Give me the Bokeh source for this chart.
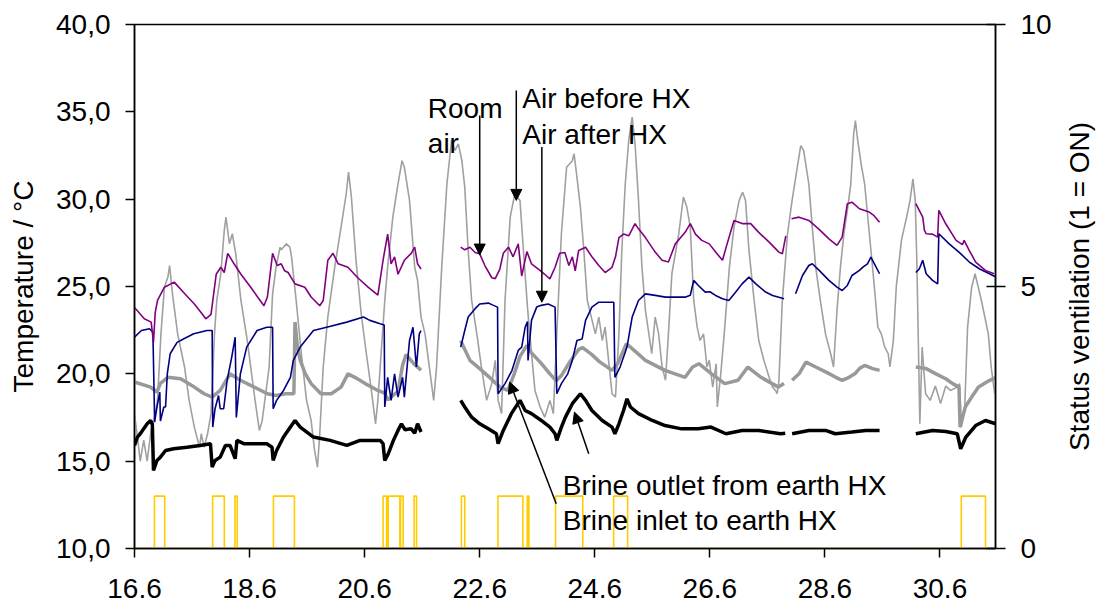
import math
from bokeh.plotting import figure
from bokeh.layouts import row
from bokeh.models import Range1d, LinearAxis, FixedTicker, Label, Arrow, NormalHead
from bokeh.embed import file_html
from bokeh.resources import INLINE

# ---------------- data ----------------
date_ticks = [16, 18, 20, 22, 24, 26, 28, 30]
date_labels = ["16.6", "18.6", "20.6", "22.6", "24.6", "26.6", "28.6", "30.6"]
temp_ticks = [10, 15, 20, 25, 30, 35, 40]
temp_labels = ["10,0", "15,0", "20,0", "25,0", "30,0", "35,0", "40,0"]
vent_ticks = [0, 5, 10]

# (day of June, value); None = missing data
room_air = [
    (16.00, 23.8), (16.17, 23.15), (16.29, 22.96), (16.33, 21.8), (16.36, 23.5), (16.40, 24.2),
    (16.52, 24.96), (16.69, 25.25), (16.87, 24.6), (17.04, 24.0), (17.16, 23.5), (17.24, 23.15),
    (17.33, 23.4), (17.42, 25.7), (17.50, 26.1), (17.56, 25.8), (17.62, 26.9), (17.73, 26.3),
    (17.85, 25.7), (18.02, 24.96), (18.14, 24.4), (18.25, 23.9), (18.31, 24.4), (18.40, 26.9),
    (18.48, 26.2), (18.55, 26.3), (18.61, 25.9), (18.67, 25.8), (18.79, 25.15), (18.96, 24.96),
    (19.07, 24.4), (19.22, 23.9), (19.28, 24.2), (19.36, 26.5), (19.45, 26.9), (19.54, 26.3),
    (19.71, 26.1), (19.88, 25.5), (20.06, 24.96), (20.23, 24.5), (20.32, 26.5), (20.40, 28.0),
    (20.46, 26.3), (20.52, 26.7), (20.58, 25.7), (20.69, 26.5), (20.81, 26.9), (20.87, 27.25),
    (20.92, 26.3), (20.98, 26.0), None,
    (21.67, 27.25), (21.74, 27.1), (21.83, 27.25), (21.92, 26.95), (22.00, 26.87), (22.09, 26.2),
    (22.21, 25.5), (22.27, 25.45), (22.35, 26.0), (22.41, 26.9), (22.50, 27.25), (22.58, 26.7),
    (22.67, 27.44), (22.73, 25.6), (22.82, 27.0), (22.90, 26.3), (23.02, 26.0), (23.13, 25.7),
    (23.22, 25.44), (23.31, 26.1), (23.39, 26.9), (23.48, 26.95), (23.55, 26.2), (23.61, 26.7),
    (23.66, 25.9), (23.72, 27.06), (23.84, 27.25), (23.95, 26.7), (24.07, 26.2), (24.18, 25.8),
    (24.30, 26.1), (24.36, 26.7), (24.42, 27.8), (24.50, 28.0), (24.59, 27.9), (24.70, 28.6),
    (24.76, 28.3), (24.88, 27.8), (25.05, 26.97), (25.17, 26.5), (25.28, 26.4), (25.40, 27.44),
    (25.57, 28.1), (25.66, 28.6), (25.75, 28.0), (25.86, 27.64), (25.99, 27.44), (26.10, 26.97),
    (26.22, 26.5), (26.30, 27.44), (26.42, 28.78), (26.56, 28.6), (26.71, 28.6), (26.85, 28.1),
    (27.03, 27.54), (27.20, 26.97), (27.26, 26.87), (27.32, 27.9), None,
    (27.42, 28.88), (27.55, 28.97), (27.72, 28.78), (27.89, 28.3), (28.07, 27.73), (28.21, 27.35),
    (28.30, 27.83), (28.39, 29.74), (28.47, 29.83), (28.60, 29.45), (28.77, 29.26), (28.85, 29.07),
    (28.95, 28.68), None,
    (29.58, 29.74), (29.64, 29.36), (29.70, 28.97), (29.73, 28.21), (29.76, 28.02), (29.87, 28.0),
    (29.96, 27.83), (29.98, 29.36), (30.10, 28.59), (30.28, 27.64), (30.39, 27.4), (30.42, 27.64),
    (30.51, 27.06), (30.62, 26.4), (30.79, 25.92), (30.94, 25.73),
]

air_after_hx = [
    (16.00, 22.1), (16.12, 22.48), (16.26, 22.58), (16.32, 22.39), (16.35, 17.24), (16.39, 18.1),
    (16.44, 18.95), (16.45, 17.3), (16.51, 18.1), (16.54, 18.1), (16.57, 20.0), (16.62, 21.15),
    (16.74, 21.8), (16.85, 21.99), (17.03, 22.29), (17.26, 22.48), (17.35, 22.48), (17.36, 16.95),
    (17.40, 18.0), (17.46, 18.76), (17.49, 18.0), (17.55, 18.0), (17.61, 19.63), (17.69, 20.96),
    (17.75, 22.1), (17.77, 17.5), (17.84, 20.0), (17.95, 21.53), (18.13, 22.48), (18.30, 22.67),
    (18.40, 22.67), (18.41, 18.0), (18.47, 18.48), (18.59, 19.05), (18.71, 19.8), (18.76, 20.77),
    (18.88, 21.53), (19.11, 22.48), (19.34, 22.67), (19.69, 22.96), (19.98, 23.25), (20.09, 23.06),
    (20.27, 22.87), (20.34, 22.8), (20.35, 18.1), (20.40, 19.8), (20.46, 18.48), (20.52, 20.0),
    (20.58, 18.67), (20.66, 19.8), (20.69, 18.67), (20.78, 21.91), (20.84, 22.67), (20.90, 20.39),
    (20.95, 22.29), (20.98, 22.48), None,
    (21.67, 21.53), (21.74, 22.48), (21.80, 23.25), (21.92, 23.73), (22.00, 24.0), (22.15, 24.05),
    (22.24, 23.92), (22.31, 23.82), (22.32, 18.86), (22.44, 19.44), (22.56, 20.19), (22.67, 21.34),
    (22.73, 21.53), (22.79, 22.67), (22.83, 23.0), (22.84, 20.77), (22.90, 23.06), (22.99, 23.82),
    (23.07, 23.92), (23.19, 24.0), (23.31, 23.82), (23.34, 18.86), (23.42, 19.44), (23.53, 20.0),
    (23.61, 20.77), (23.69, 21.91), (23.78, 22.0), (23.84, 23.06), (23.95, 23.82), (24.07, 24.1),
    (24.33, 24.1), (24.35, 19.8), (24.44, 20.39), (24.56, 21.53), (24.65, 23.25), (24.76, 24.2),
    (24.88, 24.58), (25.05, 24.49), (25.23, 24.39), (25.57, 24.39), (25.66, 24.5), (25.72, 25.35),
    (25.80, 25.06), (25.92, 24.68), (26.00, 24.7), (26.10, 24.49), (26.22, 24.3), (26.33, 24.2),
    (26.45, 24.68), (26.56, 25.15), (26.68, 25.54), (26.80, 25.15), (26.97, 24.68), (27.09, 24.49),
    (27.29, 24.3), None,
    (27.49, 24.58), (27.61, 25.63), (27.72, 26.2), (27.78, 26.3), (27.90, 25.92), (28.07, 25.35),
    (28.21, 24.96), (28.30, 24.77), (28.39, 25.06), (28.47, 25.63), (28.60, 25.92), (28.66, 26.11),
    (28.74, 26.3), (28.80, 26.68), (28.86, 26.3), (28.95, 25.73), None,
    (29.58, 25.8), (29.64, 26.0), (29.70, 26.5), (29.76, 25.73), (29.87, 25.35), (29.96, 25.15),
    (29.98, 28.02), (30.16, 27.44), (30.33, 26.97), (30.51, 26.4), (30.69, 26.0), (30.86, 25.73),
    (30.97, 25.54),
]

air_before_hx = [
    (16.00, 17.7), (16.05, 16.4), (16.10, 15.0), (16.16, 16.2), (16.22, 15.0), (16.29, 16.8),
    (16.33, 17.2), (16.40, 18.5), (16.46, 22.3), (16.52, 24.96), (16.58, 25.54), (16.61, 26.2),
    (16.66, 24.58), (16.75, 22.29), (16.87, 20.39), (16.95, 18.48), (17.04, 16.95), (17.13, 15.8),
    (17.16, 16.57), (17.21, 15.8), (17.27, 16.57), (17.33, 17.72), (17.39, 22.29), (17.43, 24.2),
    (17.50, 25.73), (17.56, 28.2), (17.59, 28.97), (17.65, 27.44), (17.70, 28.02), (17.76, 26.87),
    (17.85, 24.2), (17.96, 21.91), (18.08, 18.86), (18.17, 16.76), (18.22, 17.33), (18.34, 20.39),
    (18.40, 24.58), (18.46, 26.11), (18.53, 27.25), (18.55, 27.1), (18.64, 27.44), (18.70, 27.25),
    (18.73, 26.68), (18.81, 24.2), (18.90, 21.15), (18.99, 18.48), (19.07, 17.33), (19.13, 15.61),
    (19.18, 14.66), (19.22, 16.57), (19.28, 20.39), (19.36, 23.25), (19.48, 26.11), (19.59, 28.4),
    (19.68, 30.31), (19.72, 31.55), (19.77, 30.12), (19.85, 26.5), (19.94, 23.44), (20.03, 21.15),
    (20.11, 19.24), (20.19, 17.14), (20.23, 18.48), (20.29, 21.34), (20.35, 24.2), (20.40, 26.11),
    (20.49, 28.97), (20.58, 30.88), (20.65, 32.2), (20.69, 31.83), (20.78, 29.93), (20.87, 26.11),
    (20.92, 25.35), (20.98, 23.25), (21.05, 22.29), (21.14, 20.0), (21.20, 18.48), (21.25, 20.39),
    (21.34, 26.11), (21.43, 30.88), (21.51, 33.36), (21.57, 32.79), (21.63, 33.17), (21.69, 32.2),
    (21.74, 30.69), (21.80, 27.06), (21.86, 24.2), (21.95, 22.29), (22.03, 20.39), (22.12, 18.48),
    (22.21, 19.44), (22.27, 20.77), (22.32, 18.48), (22.38, 17.72), (22.44, 24.2), (22.53, 28.97),
    (22.61, 30.31), (22.70, 29.93), (22.76, 27.06), (22.83, 23.82), (22.87, 22.29), (22.96, 19.05),
    (23.05, 18.1), (23.13, 17.52), (23.22, 18.48), (23.28, 17.72), (23.34, 22.29), (23.42, 28.02),
    (23.51, 31.83), (23.61, 32.2), (23.64, 32.6), (23.69, 31.26), (23.75, 29.55), (23.81, 27.06),
    (23.87, 24.2), (24.01, 22.29), (24.07, 23.25), (24.13, 21.91), (24.18, 22.67), (24.24, 20.77),
    (24.30, 18.86), (24.36, 18.67), (24.42, 22.29), (24.47, 27.06), (24.53, 30.88), (24.59, 33.36),
    (24.65, 34.7), (24.70, 33.17), (24.76, 29.93), (24.82, 26.11), (24.88, 23.63), (24.94, 22.29),
    (24.99, 21.15), (25.05, 23.25), (25.11, 22.29), (25.17, 20.39), (25.23, 19.63), (25.28, 22.29),
    (25.34, 25.73), (25.46, 28.02), (25.54, 30.12), (25.60, 29.55), (25.66, 28.4), (25.72, 24.2),
    (25.78, 22.67), (25.83, 21.91), (25.89, 22.29), (25.95, 20.39), (25.99, 20.77), (26.05, 19.24),
    (26.11, 20.58), (26.13, 18.1), (26.19, 20.0), (26.25, 22.29), (26.34, 26.11), (26.42, 28.4),
    (26.51, 29.93), (26.57, 30.4), (26.62, 29.93), (26.68, 27.06), (26.77, 24.2), (26.85, 21.91),
    (26.94, 20.77), (27.03, 19.8), (27.09, 19.24), (27.14, 19.05), (27.17, 18.86), (27.20, 19.6),
    (27.26, 24.2), (27.35, 28.02), (27.43, 29.93), (27.52, 31.83), (27.58, 33.07), (27.63, 32.79),
    (27.72, 30.88), (27.78, 28.4), (27.84, 26.11), (27.92, 24.2), (28.01, 22.29), (28.10, 21.15),
    (28.15, 20.39), (28.21, 23.63), (28.27, 26.11), (28.33, 28.02), (28.39, 29.36), (28.45, 30.88),
    (28.50, 33.74), (28.53, 34.5), (28.57, 33.36), (28.63, 32.0), (28.69, 30.88), (28.80, 27.06),
    (28.86, 24.96), (28.92, 22.67), (28.98, 22.29), (29.04, 21.53), (29.10, 21.15), (29.13, 20.39),
    (29.19, 21.91), (29.24, 24.96), (29.33, 27.64), (29.42, 28.97), (29.48, 29.93), (29.53, 31.17),
    (29.57, 29.93), (29.60, 26.11), (29.65, 17.14), (29.69, 21.53), (29.75, 18.86), (29.83, 18.48),
    (29.92, 19.3), (30.01, 18.3), (30.10, 19.3), (30.18, 19.05), (30.30, 19.24), (30.34, 19.44),
    (30.37, 16.95), (30.43, 18.1), (30.48, 22.67), (30.55, 24.96), (30.61, 25.73), (30.72, 24.2),
    (30.84, 22.29), (30.89, 20.39), (30.95, 18.86),
]

brine_inlet = [
    (16.00, 19.53), (16.28, 19.24), (16.39, 18.95), (16.45, 19.45), (16.58, 19.8), (16.80, 19.72),
    (17.04, 19.24), (17.21, 18.86), (17.35, 18.67), (17.49, 19.05), (17.66, 20.0), (17.84, 19.63),
    (18.08, 19.24), (18.31, 18.86), (18.46, 18.76), (18.62, 18.86), (18.77, 18.86), (18.79, 22.96),
    (18.83, 21.6), (18.88, 20.77), (18.97, 20.0), (19.07, 19.44), (19.24, 18.86), (19.42, 18.86),
    (19.59, 19.24), (19.71, 20.0), (19.83, 19.8), (20.01, 19.44), (20.23, 19.05), (20.35, 18.9),
    (20.40, 18.5), (20.58, 19.0), (20.66, 20.5), (20.72, 21.1), (20.85, 20.6), (20.98, 20.2), None,
    (21.67, 21.9), (21.83, 20.77), (22.00, 20.3), (22.17, 19.8), (22.35, 19.24), (22.49, 19.05),
    (22.60, 20.0), (22.70, 21.0), (22.82, 21.63), (22.90, 21.2), (23.07, 20.6), (23.22, 20.0),
    (23.33, 19.6), (23.42, 19.9), (23.55, 20.6), (23.72, 21.4), (23.79, 21.5), (23.95, 21.1),
    (24.08, 20.7), (24.30, 20.2), (24.40, 20.6), (24.55, 21.72), (24.63, 21.5), (24.88, 20.77),
    (25.22, 20.2), (25.57, 19.8), (25.70, 20.39), (25.81, 20.58), (26.03, 20.0), (26.26, 19.44),
    (26.49, 19.63), (26.66, 20.39), (26.89, 19.8), (27.19, 19.24), (27.29, 19.44), None,
    (27.43, 19.63), (27.55, 20.0), (27.67, 20.67), (27.84, 20.39), (28.02, 20.1), (28.19, 19.8),
    (28.30, 19.63), (28.42, 19.8), (28.52, 20.0), (28.60, 20.3), (28.69, 20.48), (28.83, 20.3),
    (28.95, 20.2), None,
    (29.58, 20.39), (29.76, 20.3), (29.93, 20.0), (30.10, 19.72), (30.22, 19.44), (30.33, 19.24),
    (30.35, 16.95), (30.44, 18.1), (30.55, 18.67), (30.67, 19.24), (30.85, 19.6), (30.97, 19.8),
]

brine_outlet = [
    (16.00, 15.9), (16.05, 16.38), (16.10, 16.57), (16.22, 17.14), (16.28, 17.33), (16.31, 17.1),
    (16.33, 14.47), (16.39, 15.04), (16.45, 15.23), (16.54, 15.61), (16.68, 15.71), (16.91, 15.8),
    (17.14, 15.9), (17.32, 16.0), (17.35, 14.66), (17.40, 15.04), (17.49, 15.23), (17.58, 15.9),
    (17.66, 15.9), (17.75, 15.14), (17.78, 16.19), (17.90, 16.0), (18.30, 16.0), (18.39, 15.8),
    (18.41, 15.04), (18.47, 15.61), (18.59, 16.38), (18.71, 16.95), (18.79, 17.33), (18.88, 16.95),
    (19.11, 16.38), (19.40, 16.19), (19.69, 15.9), (19.92, 16.19), (20.27, 16.19), (20.32, 16.0),
    (20.35, 15.04), (20.41, 15.42), (20.50, 16.19), (20.58, 16.76), (20.64, 17.14), (20.70, 16.8),
    (20.81, 16.85), (20.87, 16.6), (20.92, 17.14), (20.98, 16.67), None,
    (21.67, 18.48), (21.74, 18.1), (21.86, 17.52), (22.00, 17.14), (22.15, 16.85), (22.29, 16.57),
    (22.32, 16.0), (22.41, 16.76), (22.55, 17.72), (22.70, 18.48), (22.79, 17.9), (22.90, 17.72),
    (23.07, 17.33), (23.22, 16.95), (23.31, 16.57), (23.34, 16.19), (23.42, 16.95), (23.49, 17.52),
    (23.61, 18.29), (23.75, 18.86), (23.84, 18.48), (23.95, 17.9), (24.13, 17.33), (24.30, 16.95),
    (24.35, 16.57), (24.42, 17.14), (24.50, 17.9), (24.56, 18.57), (24.62, 18.1), (24.76, 17.72),
    (25.00, 17.33), (25.22, 17.04), (25.51, 16.85), (25.80, 16.85), (26.02, 16.95), (26.28, 16.57),
    (26.56, 16.76), (26.85, 16.76), (27.23, 16.57), (27.31, 16.6), None,
    (27.43, 16.57), (27.72, 16.76), (28.01, 16.76), (28.18, 16.57), (28.47, 16.67), (28.71, 16.76),
    (28.95, 16.76), None,
    (29.58, 16.57), (29.87, 16.76), (30.10, 16.7), (30.30, 16.57), (30.36, 15.71), (30.45, 16.38),
    (30.62, 17.04), (30.79, 17.33), (30.97, 17.14),
]

# ventilation ON periods (status = 1), days of June
vent_on = [
    (16.347, 16.525), (17.358, 17.561), (17.746, 17.786), (18.415, 18.780),
    (20.321, 20.382), (20.410, 20.612), (20.625, 20.670), (20.860, 20.902),
    (21.682, 21.740), (22.317, 22.750), (22.827, 22.855), (23.318, 23.791),
    (24.328, 24.571), (30.370, 30.791),
]
vent_start, vent_end = 16.0, 30.965
vent_gaps = [(20.98, 21.67), (27.32, 27.43), (28.95, 29.58)]


def unzip(series):
    xs, ys = [], []
    for pt in series:
        if pt is None:
            xs.append(math.nan)
            ys.append(math.nan)
        else:
            xs.append(pt[0])
            ys.append(pt[1])
    return xs, ys


def vent_step():
    xs, ys = [vent_start], [0]
    for s, e in vent_on:
        xs += [s, s, e, e]
        ys += [0, 1, 1, 0]
    xs.append(vent_end)
    ys.append(0)
    out_x, out_y = [], []
    for i in range(len(xs)):
        if i > 0:
            for g0, g1 in vent_gaps:
                if xs[i - 1] <= g0 and xs[i] >= g1:
                    out_x += [g0, math.nan, g1]
                    out_y += [ys[i - 1], math.nan, ys[i - 1]]
        out_x.append(xs[i])
        out_y.append(ys[i])
    return out_x, out_y


FONT = "Liberation Sans"
FS = "28px"
H = 610

p = figure(width=1054, height=H, x_range=Range1d(16, 30.965), y_range=Range1d(10, 40),
           output_backend="svg", toolbar_location=None,
           min_border_left=134, min_border_right=57, min_border_top=24, min_border_bottom=62)
p.extra_y_ranges = {"vent": Range1d(0, 10)}
p.xgrid.visible = False
p.ygrid.visible = False
p.outline_line_color = "black"
p.outline_line_width = 1.5
p.background_fill_color = "white"
p.border_fill_color = "white"

xa = p.xaxis[0]
xa.ticker = FixedTicker(ticks=date_ticks)
xa.major_label_overrides = {t: l for t, l in zip(date_ticks, date_labels)}
ya = p.yaxis[0]
ya.ticker = FixedTicker(ticks=temp_ticks)
ya.major_label_overrides = {t: l for t, l in zip(temp_ticks, temp_labels)}
ya.axis_label = "Temperature / °C"
ya.axis_label_standoff = 14
ya.axis_label_text_font = FONT
ya.axis_label_text_font_size = FS
ya.axis_label_text_font_style = "normal"
ya.axis_label_text_color = "black"

ra = LinearAxis(y_range_name="vent", ticker=FixedTicker(ticks=vent_ticks))
p.add_layout(ra, "right")

for ax in (xa, ya, ra):
    ax.major_label_text_font = FONT
    ax.major_label_text_font_size = FS
    ax.major_label_text_color = "black"
    ax.axis_line_color = "black"
    ax.axis_line_width = 1.5
    ax.major_tick_line_color = "black"
    ax.major_tick_line_width = 1.5
    ax.minor_tick_line_color = None
    ax.major_label_standoff = 15
    ax.major_tick_in = 0
    ax.major_tick_out = 9
ra.major_tick_in = 9
ra.major_tick_out = 10
xa.major_label_standoff = 21

vx, vy = vent_step()
p.line(vx, vy, y_range_name="vent", line_color="#FFCC00", line_width=1.6)

x, y = unzip(air_before_hx)
p.line(x, y, line_color="#A0A0A0", line_width=1.6)
x, y = unzip(brine_inlet)
p.line(x, y, line_color="#999999", line_width=3.5)
x, y = unzip(brine_outlet)
p.line(x, y, line_color="black", line_width=3.5)
x, y = unzip(air_after_hx)
p.line(x, y, line_color="#000080", line_width=1.6)
x, y = unzip(room_air)
p.line(x, y, line_color="#800080", line_width=1.6)


def add_text(x, y, text):
    p.add_layout(Label(x=x, y=y, text=text, text_font=FONT, text_font_size=FS,
                       text_color="black", text_align="left", text_baseline="alphabetic"))


add_text(21.098, 35.18, "Room")
add_text(21.098, 33.17, "air")
add_text(22.74, 35.75, "Air before HX")
add_text(22.74, 33.70, "Air after HX")
add_text(23.444, 13.61, "Brine outlet from earth HX")
add_text(23.444, 11.61, "Brine inlet to earth HX")


def add_arrow(x0, y0, x1, y1):
    p.add_layout(Arrow(end=NormalHead(size=11, fill_color="black", line_color="black"),
                       x_start=x0, y_start=y0, x_end=x1, y_end=y1,
                       line_color="black", line_width=1.5))


add_arrow(22.0, 34.79, 22.0, 26.8)
add_arrow(22.636, 36.22, 22.636, 29.93)
add_arrow(23.08, 32.98, 23.08, 24.1)
add_arrow(23.895, 15.43, 23.647, 17.81)
add_arrow(23.33, 12.56, 22.52, 19.53)

# right-hand axis title, read bottom-to-top like the reference
p2 = figure(width=46, height=H, x_range=Range1d(0, 1), y_range=Range1d(0, 10),
            output_backend="svg", toolbar_location=None, x_axis_location=None,
            min_border_left=40, min_border_right=5, min_border_top=24, min_border_bottom=62)
p2.outline_line_color = None
p2.xgrid.visible = False
p2.ygrid.visible = False
p2.border_fill_color = "white"
p2.background_fill_color = "white"
ta = p2.yaxis[0]
ta.ticker = FixedTicker(ticks=[])
ta.axis_line_color = None
ta.major_tick_line_color = None
ta.minor_tick_line_color = None
ta.major_tick_out = 0
ta.major_tick_in = 0
ta.major_label_standoff = 0
ta.axis_label = "Status ventilation (1 = ON)"
ta.axis_label_standoff = 0
ta.axis_label_text_font = FONT
ta.axis_label_text_font_size = FS
ta.axis_label_text_font_style = "normal"
ta.axis_label_text_color = "black"

layout = row(p, p2, spacing=0)
open("out.html", "w").write(file_html(layout, INLINE))
